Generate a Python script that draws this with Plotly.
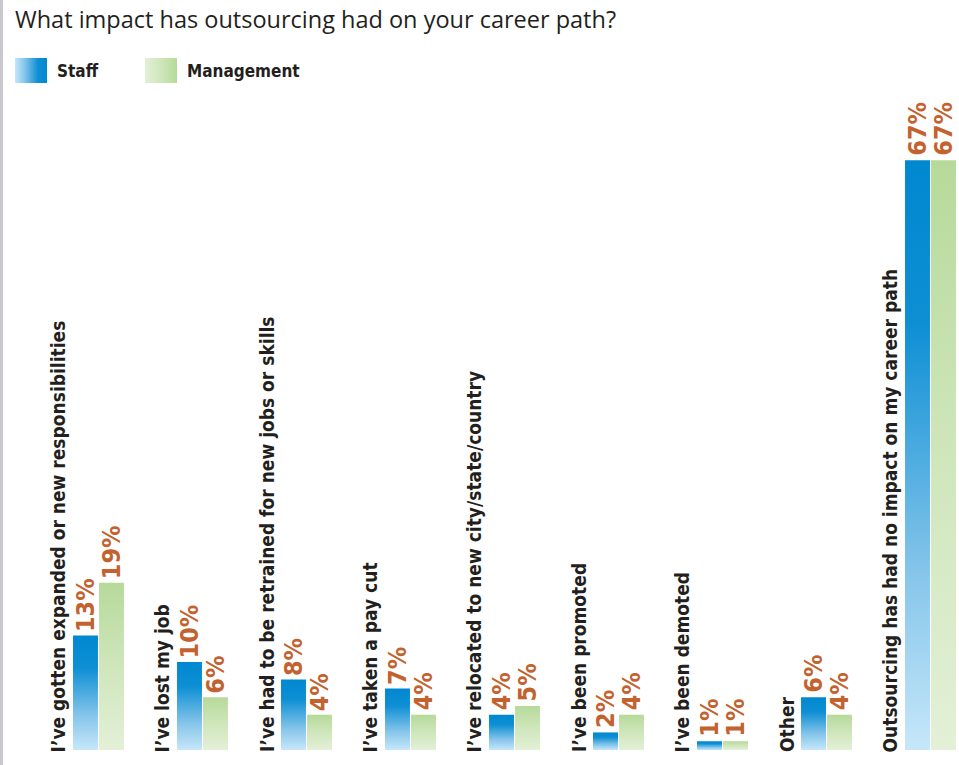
import plotly.graph_objects as go

# Survey results: impact of outsourcing on career path (percent of respondents)
categories = [
    "I’ve gotten expanded or new responsibilities",
    "I’ve lost my job",
    "I’ve had to be retrained for new jobs or skills",
    "I’ve taken a pay cut",
    "I’ve relocated to new city/state/country",
    "I’ve been promoted",
    "I’ve been demoted",
    "Other",
    "Outsourcing has had no impact on my career path",
]
staff = [13, 10, 8, 7, 4, 2, 1, 6, 67]
management = [19, 6, 4, 4, 5, 4, 1, 4, 67]
series_names = ["Staff", "Management"]

STAFF_SCALE = [[0, "#c6e7f9"], [0.3, "#86c5ea"], [0.55, "#3ea5dd"],
               [0.72, "#0e8fd4"], [1, "#0088d0"]]
MGMT_SCALE = [[0, "#e3f0d7"], [0.5, "#cfe6bb"], [1, "#b6da9a"]]
VALUE_COLOR = "#c2632f"
TEXT_COLOR = "#231f20"
COND_FONT = "DejaVu Sans Condensed, sans-serif"

BAR_W = 0.24
GAP = 0.005

fig = go.Figure()
annotations = []


def add_bar(x0, x1, v, scale):
    fig.add_trace(go.Scatter(
        x=[x0, x1, x1, x0, x0], y=[0, 0, v, v, 0],
        mode="lines", fill="toself", line=dict(width=0),
        fillgradient=dict(type="vertical", colorscale=scale),
        hoverinfo="skip", showlegend=False,
        xaxis="x", yaxis="y",
    ))


for i, (cat, s, m) in enumerate(zip(categories, staff, management)):
    add_bar(i - GAP - BAR_W, i - GAP, s, STAFF_SCALE)
    add_bar(i + GAP, i + GAP + BAR_W, m, MGMT_SCALE)
    # category label, rotated, to the left of the pair
    annotations.append(dict(
        x=i - 0.27, y=0, xref="x", yref="y", text=f"<b>{cat}</b>",
        textangle=-90, xanchor="right", yanchor="bottom", showarrow=False,
        font=dict(family=COND_FONT, size=19, color=TEXT_COLOR), borderpad=0,
        yshift=-3,
    ))
    for xc, v in ((i - GAP - BAR_W / 2, s), (i + GAP + BAR_W / 2, m)):
        annotations.append(dict(
            x=xc, y=v, xref="x", yref="y", text=f"<b>{v}%</b>",
            textangle=-90, xanchor="center", yanchor="bottom", showarrow=False,
            font=dict(family=COND_FONT, size=25, color=VALUE_COLOR), borderpad=0,
            yshift=3,
        ))

# legend swatches drawn on a pixel-scaled overlay axis
legend_items = [(series_names[0], 15, STAFF_SCALE), (series_names[1], 145, MGMT_SCALE)]
for name, px, scale in legend_items:
    fig.add_trace(go.Scatter(
        x=[px, px + 32, px + 32, px, px], y=[58, 58, 83, 83, 58],
        mode="lines", fill="toself", line=dict(width=0),
        fillgradient=dict(type="horizontal", colorscale=scale),
        hoverinfo="skip", showlegend=False, xaxis="x2", yaxis="y2",
    ))
    annotations.append(dict(
        x=px + 40, y=70.5, xref="x2", yref="y2", text=f"<b>{name}</b>",
        xanchor="left", yanchor="middle", showarrow=False,
        font=dict(family=COND_FONT, size=17, color=TEXT_COLOR),
    ))

annotations.append(dict(
    x=13, y=19, xref="x2", yref="y2",
    text="What impact has outsourcing had on your career path?",
    xanchor="left", yanchor="middle", showarrow=False,
    font=dict(family="Open Sans, sans-serif", size=23.5, color=TEXT_COLOR),
))

fig.update_layout(
    width=959, height=765,
    margin=dict(l=0, r=0, t=0, b=0),
    paper_bgcolor="white", plot_bgcolor="white",
    xaxis=dict(range=[-0.947, 8.274], visible=False, fixedrange=True),
    yaxis=dict(range=[-1.70, 85.2], visible=False, fixedrange=True),
    xaxis2=dict(range=[0, 959], visible=False, overlaying="x", fixedrange=True),
    yaxis2=dict(range=[765, 0], visible=False, overlaying="y", fixedrange=True),
    annotations=annotations,
    shapes=[dict(type="rect", xref="paper", yref="paper", x0=0, x1=3 / 959,
                 y0=0, y1=1, fillcolor="#c9c9cd", line=dict(width=0))],
    showlegend=False,
)

fig.write_html("out.html")
